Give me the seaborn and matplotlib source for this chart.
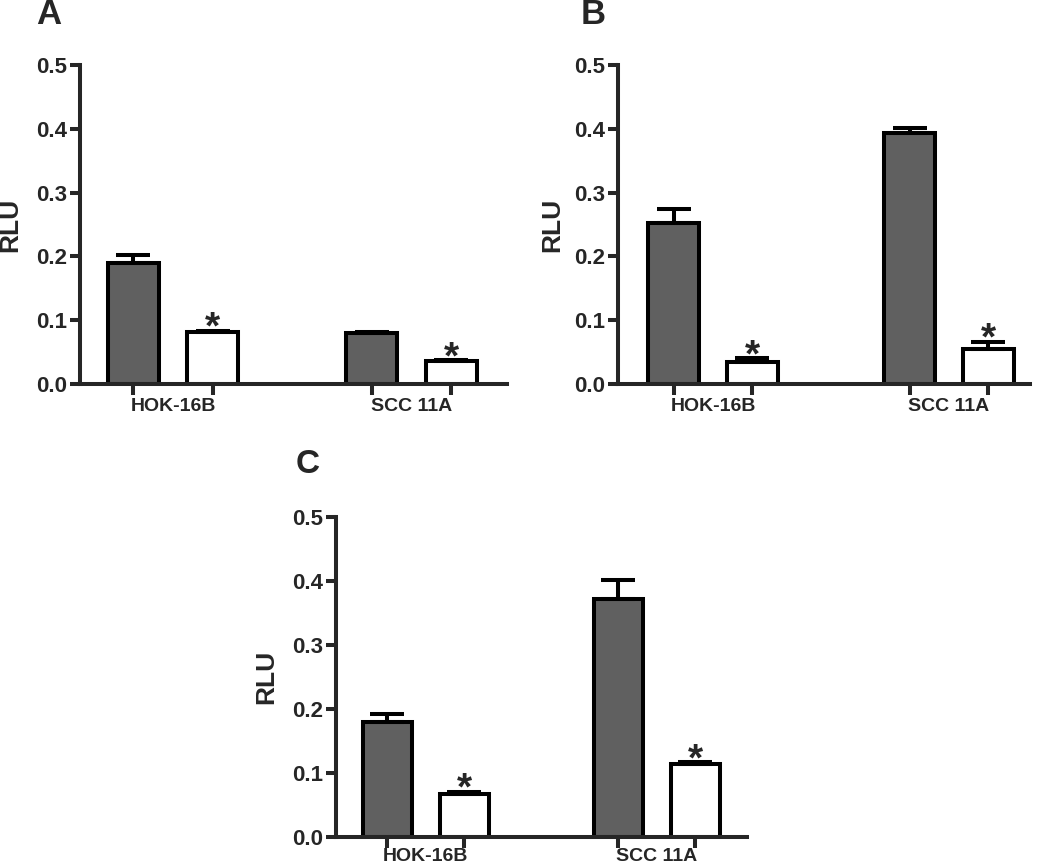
import matplotlib
matplotlib.use("Agg")
import matplotlib.pyplot as plt
import pandas as pd
import seaborn as sns

cell_lines = ["HOK-16B", "SCC 11A"]
groups = ["Control", "Treated"]

# panel A
a_control = [0.190, 0.080]
a_control_sem = [0.012, 0.002]
a_treated = [0.081, 0.036]
a_treated_sem = [0.002, 0.001]

# panel B
b_control = [0.253, 0.394]
b_control_sem = [0.021, 0.007]
b_treated = [0.034, 0.055]
b_treated_sem = [0.006, 0.011]

# panel C
c_control = [0.180, 0.371]
c_control_sem = [0.012, 0.030]
c_treated = [0.066, 0.113]
c_treated_sem = [0.004, 0.003]

GREY = "#606060"
LW = 2.9

sns.set_style("ticks")
plt.rcParams["font.family"] = ["Liberation Sans", "DejaVu Sans"]
plt.rcParams["font.weight"] = "bold"
plt.rcParams["axes.labelweight"] = "bold"


def draw_panel(ax, control, control_sem, treated, treated_sem, xlim, label_x, xpad=10):
    df = pd.DataFrame({
        "cell": cell_lines + cell_lines,
        "group": [groups[0]] * 2 + [groups[1]] * 2,
        "rlu": control + treated,
    })
    sems = control_sem + treated_sem

    sns.barplot(data=df, x="cell", y="rlu", hue="group", hue_order=groups,
                palette=[GREY, "white"], width=0.667, gap=0.36,
                errorbar=None, edgecolor="black", linewidth=LW,
                legend=False, ax=ax, zorder=2)

    xs = [p.get_x() + p.get_width() / 2 for p in ax.patches]
    tops = [p.get_height() for p in ax.patches]

    ax.errorbar(xs, tops, yerr=[[0] * len(sems), sems], fmt="none",
                ecolor="black", elinewidth=LW, capsize=12, capthick=LW,
                zorder=3)

    # significance stars above treated bars
    for x, top, sem in zip(xs[2:], tops[2:], sems[2:]):
        ax.text(x, top + sem - 0.012, "*", ha="center", va="baseline",
                fontsize=28, fontweight="bold")

    ax.set_ylim(0, 0.5)
    ax.set_xlim(*xlim)
    ax.set_yticks([0.0, 0.1, 0.2, 0.3, 0.4, 0.5])
    ax.set_yticklabels(["0.0", "0.1", "0.2", "0.3", "0.4", "0.5"])
    ax.set_xticks([0, 1])
    ax.set_xticklabels(cell_lines)
    ax.set_xticks(xs, minor=True)

    ax.tick_params(axis="y", length=7, width=LW, labelsize=16, pad=2)
    ax.tick_params(axis="x", which="major", length=0, labelsize=14, pad=xpad)
    ax.tick_params(axis="x", which="minor", length=8, width=LW)

    ax.set_xlabel("")
    ax.set_ylabel("RLU", fontsize=19)
    ax.yaxis.set_label_coords(label_x, 0.5)

    for side in ["top", "right"]:
        ax.spines[side].set_visible(False)
    for side in ["left", "bottom"]:
        ax.spines[side].set_linewidth(LW)


fig = plt.figure(figsize=(10.5, 8.65), dpi=100)
W, H = 1050, 865

ax_a = fig.add_axes([80 / W, 1 - 384 / H, 427 / W, 319 / H])
ax_b = fig.add_axes([618 / W, 1 - 384 / H, 412 / W, 319 / H])
ax_c = fig.add_axes([336 / W, 1 - 836.7 / H, 411 / W, 320 / H])

draw_panel(ax_a, a_control, a_control_sem, a_treated, a_treated_sem, (-0.391, 1.401), -0.135)
draw_panel(ax_b, b_control, b_control_sem, b_treated, b_treated_sem, (-0.4025, 1.343), -0.13)
draw_panel(ax_c, c_control, c_control_sem, c_treated, c_treated_sem, (-0.389, 1.391), -0.14, xpad=8)

fig.text(36 / W, 1 + 2 / H, "A", ha="left", va="top", fontsize=25, fontweight="bold")
fig.text(581 / W, 1 + 2 / H, "B", ha="left", va="top", fontsize=25, fontweight="bold")
fig.text(296 / W, 1 - 449 / H, "C", ha="left", va="top", fontsize=24, fontweight="bold")

fig.savefig("out.png", dpi=100)
